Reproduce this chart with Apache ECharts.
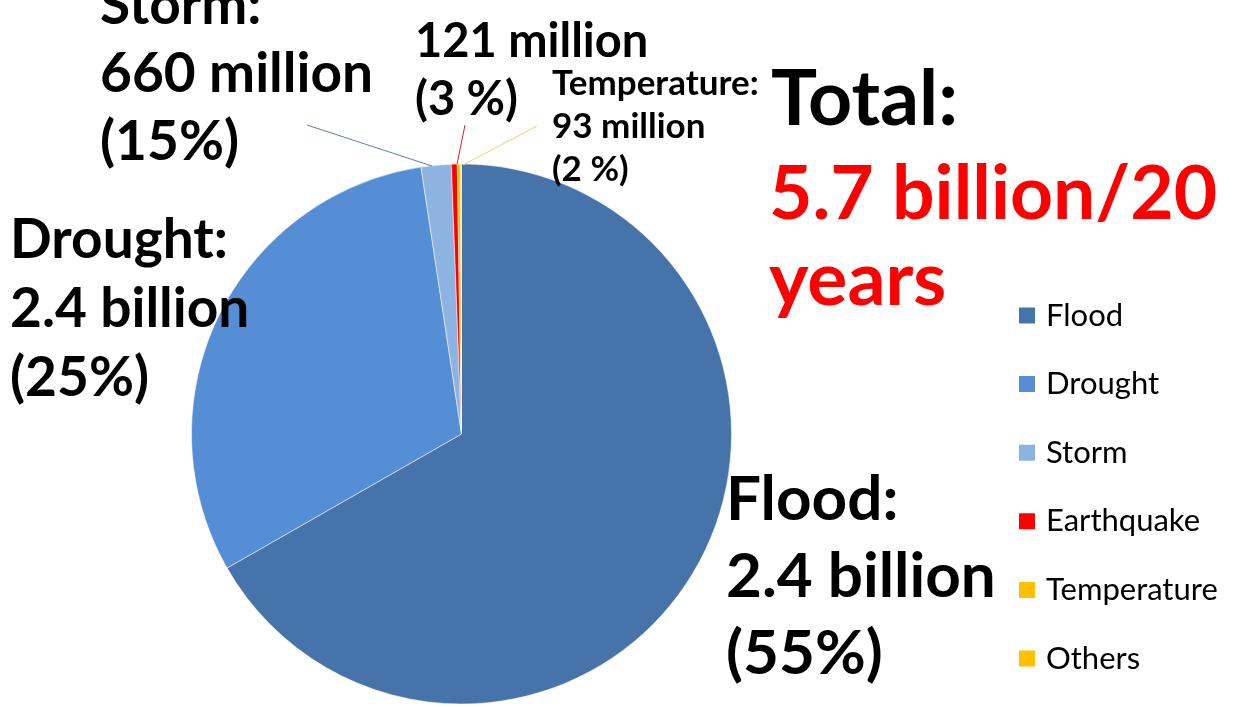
<!DOCTYPE html>
<html>
<head>
<meta charset="utf-8">
<script src="https://cdn.jsdelivr.net/npm/echarts@6/dist/echarts.min.js"></script>
<style>
  html, body { margin: 0; padding: 0; background: #ffffff; }
  #chart { width: 1242px; height: 707px; }
</style>
</head>
<body>
<div id="chart"></div>
<script>
// Disaster categories and their share of the pie (percent of all people affected)
const categories = ['Flood', 'Drought', 'Storm', 'Earthquake', 'Temperature', 'Others'];
const shares = [66.8, 30.9, 1.8, 0.35, 0.2, 0.05];
const colors = ['#4674AA', '#558ED5', '#8DB3E2', '#FF0000', '#FFC000', '#FFC000'];

// Callout texts, one array of lines per annotation
const stormLines = ['Storm:', '660 million', '(15%)'];
const quakeLines = ['121 million', '(3 %)'];
const tempLines = ['Temperature:', '93 million', '(2 %)'];
const droughtLines = ['Drought:', '2.4 billion', '(25%)'];
const floodLines = ['Flood:', '2.4 billion', '(55%)'];
const totalLines = ['Total:', '5.7 billion/20', 'years'];

const FONT = 'Lato, "Noto Sans", sans-serif';

function textBlock(lines, x, y0, pitch, size, color) {
  return lines.map((t, i) => ({
    type: 'text',
    x: x,
    y: y0 + i * pitch,
    z: 10,
    style: {
      text: t,
      fill: color || '#000000',
      font: 'bold ' + size + 'px ' + FONT,
      textAlign: 'left',
      textVerticalAlign: 'middle'
    }
  }));
}

function leader(x1, y1, x2, y2, color) {
  return {
    type: 'line',
    z: 5,
    shape: { x1: x1, y1: y1, x2: x2, y2: y2 },
    style: { stroke: color, lineWidth: 1 }
  };
}

const chart = echarts.init(document.getElementById('chart'), null, { renderer: 'canvas' });

const graphics = []
  .concat(textBlock(stormLines, 100, 6, 68, 55))
  .concat(textBlock(quakeLines, 415, 42, 58, 47))
  .concat(textBlock(tempLines, 552, 84, 43, 35))
  .concat(textBlock(droughtLines, 10, 240, 69, 55))
  .concat(textBlock(floodLines, 726, 500, 77, 62))
  .concat(textBlock(totalLines.slice(0, 1), 771, 100, 0, 77))
  .concat(textBlock(totalLines.slice(1), 769, 195, 86, 75, '#FF0000'))
  .concat([
    leader(307, 125, 432, 166, '#5A7FA8'),
    leader(465, 125, 457, 164, '#E02020'),
    leader(537, 126, 463, 165, '#F2D060')
  ]);

chart.setOption({
  backgroundColor: '#ffffff',
  animation: false,
  color: colors,
  legend: {
    orient: 'vertical',
    left: 1012,
    top: 295,
    itemWidth: 18,
    itemHeight: 18,
    itemGap: 37.6,
    icon: 'rect',
    data: categories,
    textStyle: {
      fontFamily: FONT,
      fontSize: 31,
      color: '#000000',
      padding: [0, 0, 0, 5]
    }
  },
  graphic: graphics,
  series: [{
    type: 'pie',
    center: [461.5, 434],
    radius: 270,
    startAngle: 90,
    clockwise: true,
    label: { show: false },
    labelLine: { show: false },
    itemStyle: { borderColor: '#ffffff', borderWidth: 0.5 },
    emphasis: { disabled: true },
    data: categories.map((name, i) => ({ name: name, value: shares[i] }))
  }]
});
</script>
</body>
</html>
